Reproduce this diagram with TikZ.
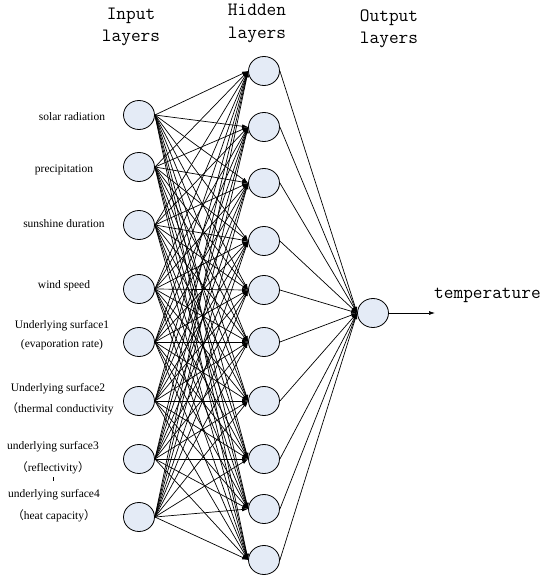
\documentclass[tikz,border=0pt]{standalone}
\usepackage{fontspec}
\setmainfont{Liberation Serif}
\newfontfamily\cjk{Noto Sans CJK SC}
\usetikzlibrary{shapes.geometric,arrows.meta}

\tikzset{
  neuron/.style={ellipse, draw=black, line width=0.8pt, fill=nfill,
    minimum width=31pt, minimum height=29pt, inner sep=0pt},
  link/.style={line width=0.7pt, -{Latex[length=6pt,width=4pt]}},
  feat/.style={font=\fontsize{11.5}{12}\selectfont, inner sep=0pt, anchor=center},
  head/.style={font=\ttfamily\fontsize{18.8}{22}\selectfont, align=center, inner sep=0pt},
}
\definecolor{nfill}{HTML}{E4EBF6}

\begin{document}
\begin{tikzpicture}[x=1pt,y=-1pt]
\useasboundingbox (0,0) rectangle (543,578);

% layer headings (anchored at the baseline of the second line)
\node[head, anchor=base] (hin)  at (131,42) {Input\\layers};
\node[head, anchor=base] (hhid) at (257,38) {Hidden\\layers};
\node[head, anchor=base] (hout) at (389,44) {Output\\layers};

% input neurons
\foreach \i/\y in {1/115,2/167,3/225,4/289,5/342,6/401,7/459,8/517}
  \node[neuron] (in\i) at (139,\y) {};

% hidden neurons
\foreach \j/\y in {1/71,2/127,3/183,4/241,5/290,6/342,7/401,8/459,9/509,10/560}
  \node[neuron] (hid\j) at (264,\y) {};

% output neuron
\node[neuron] (out) at (373,313) {};
\coordinate (res) at (435,313);
\node[font=\ttfamily\fontsize{18.8}{22}\selectfont, anchor=base west, inner sep=0pt] (tlabel) at (434,298) {temperature};

% input labels
\node[feat] (l1) at (72,117) {solar radiation};
\node[feat] (l2) at (64,170) {precipitation};
\node[feat] (l3) at (64,224) {sunshine duration};
\node[feat] (l4) at (64,286) {wind speed};
\node[feat] (l5a) at (62,326) {Underlying surface1};
\node[feat] (l5b) at (62,345) {(evaporation rate)};
\node[feat] (l6a) at (58,389) {Underlying surface2};
\node[feat] (l6b) at (60,409) {{\cjk（}thermal conductivity};
\node[feat] (l7a) at (53,447) {underlying surface3};
\node[feat] (l7b) at (53,468) {{\cjk（}reflectivity{\cjk）}};
\node[feat] (l8a) at (54,495) {underlying surface4};
\node[feat] (l8b) at (54,516) {{\cjk（}heat capacity{\cjk）}};
\draw[line width=0.7pt] (53,477) -- (53,481);

% connections
\foreach \i in {1,...,8}
  \foreach \j in {1,...,10}
    \draw[link] (in\i.east) -- (hid\j.west);
\foreach \j in {1,...,10}
  \draw[link] (hid\j.east) -- (out.west);
\draw[link] (out.east) -- (res);
\end{tikzpicture}
\end{document}
